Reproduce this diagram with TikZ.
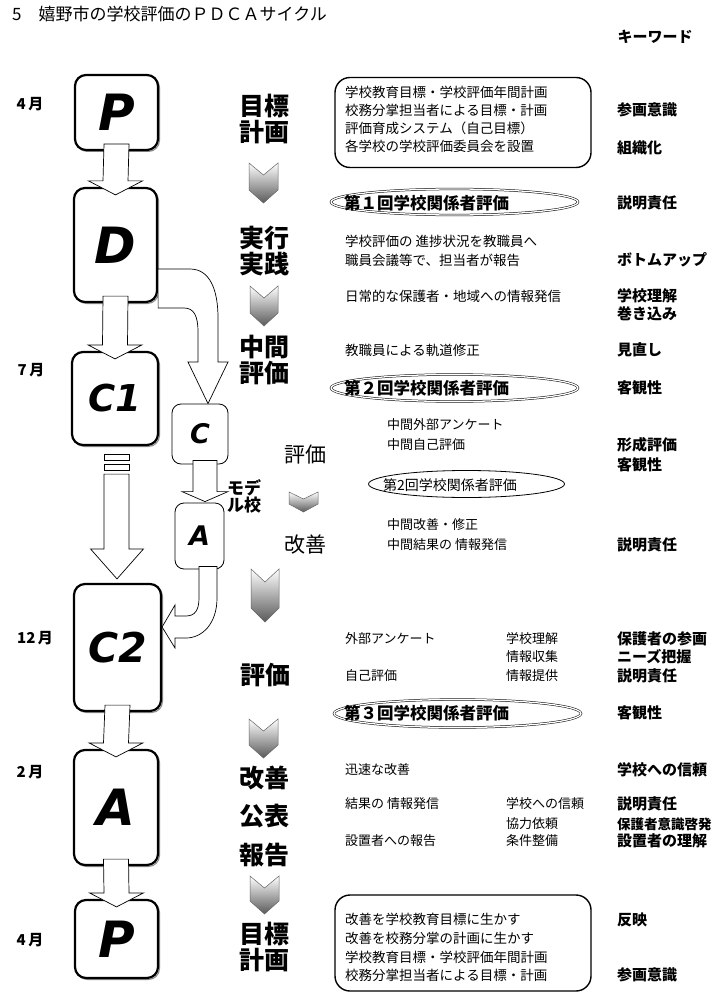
\documentclass[tikz,border=0pt]{standalone}
\usepackage{fontspec}
\setmainfont{Noto Sans CJK JP}
\newfontfamily\lat{DejaVu Sans}
\usetikzlibrary{shapes.geometric,calc,shadows}
\newcommand\mychev[5]{%
  \shadedraw[top color=white, bottom color=black!65, draw=black!60, line width=0.5pt]
  (#1,#3) -- ({(#1+#2)/2},{#3+#5}) -- (#2,#3) -- (#2,{#4-#5-1}) -- ({(#1+#2)/2},#4) -- (#1,{#4-#5-1}) -- cycle;}
\newcommand\blockdown[2]{%
  \draw[barrow] ($(#1.south)+(-12.5,-7)$) -- ($(#1.south)+(12.5,-7)$)
    -- ($(#2.north)+(12.5,-6)$) -- ($(#2.north)+(27,-6)$) -- ($(#2.north)+(0,8)$)
    -- ($(#2.north)+(-27,-6)$) -- ($(#2.north)+(-12.5,-6)$) -- cycle;}
\begin{document}
\begin{tikzpicture}[x=1pt,y=-1pt,
  bigbox/.style={draw, line width=2.2pt, rounded corners=11pt, fill=white, inner sep=0pt,
     copy shadow={shadow xshift=1.5pt, shadow yshift=-1.5pt, draw=black!45, line width=1pt, fill=white}},
  smallbox/.style={draw, line width=0.8pt, rounded corners=9pt, fill=white, inner sep=0pt},
  barrow/.style={draw, line width=0.7pt, fill=white, line join=miter},
  txt/.style={anchor=west, inner sep=0pt, font=\fontsize{13.5}{14}\selectfont},
  kw/.style={anchor=west, inner sep=0pt, font=\fontsize{15}{16}\selectfont\bfseries},
  stage/.style={align=center, inner sep=0pt, font=\fontsize{25}{26}\selectfont\bfseries},
  midstage/.style={inner sep=0pt, font=\fontsize{21}{22}\selectfont},
  month/.style={inner sep=0pt, font=\fontsize{15}{16}\selectfont\bfseries},
  dell/.style={draw, ellipse, line width=0.5pt, double, double distance=1.3pt, inner sep=0pt},
  sell/.style={draw, ellipse, line width=0.8pt, inner sep=0pt},
  ebold/.style={anchor=west, inner sep=0pt, font=\fontsize{16.5}{17}\selectfont\bfseries},
  tbox/.style={draw, line width=1.4pt, rounded corners=15pt, inner sep=0pt}
]
\fill[white] (0,0) rectangle (720,1000);
\useasboundingbox (0,0) rectangle (720,1000);

% title and heading
\node[anchor=west, inner sep=0pt, font=\fontsize{17}{18}\selectfont] (title) at (12,14) {5　嬉野市の学校評価のＰＤＣＡサイクル};
\node[inner sep=0pt, font=\fontsize{15}{16}\selectfont\bfseries] (kwhead) at (655,37) {キーワード};

% main boxes
\node[bigbox, minimum width=83pt, minimum height=75pt, font=\lat\bfseries\itshape\fontsize{50}{50}\selectfont] (P1) at (116.5,112.5) {P};
\node[bigbox, minimum width=83pt, minimum height=114pt, font=\lat\bfseries\itshape\fontsize{50}{50}\selectfont] (D) at (115.5,245) {D};
\node[bigbox, minimum width=86pt, minimum height=93pt, font=\lat\bfseries\itshape\fontsize{37}{37}\selectfont] (C1) at (115,398.5) {C1};
\node[bigbox, minimum width=87pt, minimum height=127pt, font=\lat\bfseries\itshape\fontsize{41}{41}\selectfont] (C2) at (117.5,647.5) {C2};
\node[bigbox, minimum width=84pt, minimum height=115pt, font=\lat\bfseries\itshape\fontsize{50}{50}\selectfont] (A) at (116,807.5) {A};
\node[bigbox, minimum width=83pt, minimum height=78pt, font=\lat\bfseries\itshape\fontsize{50}{50}\selectfont] (P2) at (116.5,939) {P};

% model school boxes
\node[smallbox, minimum width=56pt, minimum height=60pt, font=\lat\bfseries\itshape\fontsize{27}{27}\selectfont] (sc) at (200,434) {C};
\node[smallbox, minimum width=49pt, minimum height=66pt, font=\lat\bfseries\itshape\fontsize{27}{27}\selectfont] (sa) at (199.5,536) {A};

% month labels
\node[month] (m1) at (30,104) {4\,月};
\node[month] (m2) at (31,370) {7\,月};
\node[month] (m3) at (35,638) {12\,月};
\node[month] (m4) at (30,772) {2\,月};
\node[month] (m5) at (30,940) {4\,月};

% block arrows between main boxes
\blockdown{P1}{D}
\blockdown{D}{C1}
\blockdown{C2}{A}
\blockdown{A}{P2}
% C1 -> C2 with break marks
\draw[barrow] ($(C1.south)+(-11,8)$) rectangle ($(C1.south)+(14,14)$);
\draw[barrow] ($(C1.south)+(-11,18)$) rectangle ($(C1.south)+(14,24)$);
\draw[barrow] ($(C1.south)+(-11,28)$) -- ($(C1.south)+(14,28)$) -- ($(C2.north)+(11.5,-34)$)
  -- ($(C2.north)+(26,-34)$) -- ($(C2.north)+(-0.5,-4)$) -- ($(C2.north)+(-27,-34)$)
  -- ($(C2.north)+(-13.5,-34)$) -- cycle;

% curved arrow D -> c
\draw[barrow] (D.east |- 0,269) -- (190,269) .. controls (210,269) and (218,290) .. (218,318)
  -- (218,362) -- (228,362) -- (sc.north -| 208,0) -- (188,362) -- (198,362) -- (198,332)
  .. controls (198,316) and (194,308) .. (184,308) -- (D.east |- 0,308) -- cycle;
% c -> A
\draw[barrow] ($(sc.south)+(-7,-4)$) -- ($(sc.south)+(17,-4)$) -- ($(sa.north)+(17.5,-11)$)
  -- ($(sa.north)+(28.5,-11)$) -- ($(sa.north)+(5.5,-1)$) -- ($(sa.north)+(-17.5,-11)$)
  -- ($(sa.north)+(-6.5,-11)$) -- cycle;
% A -> C2 curved
\draw[barrow] ($(sa.south)+(-0.5,-3)$) -- ($(sa.south)+(17.5,-3)$) -- (217,598)
  .. controls (217,624) and (202,638) .. (186,638) -- (175,638) -- (175,648)
  -- (C2.east |- 0,627) -- (175,605) -- (175,616) -- (186,616)
  .. controls (195,616) and (199,610) .. (199,598) -- cycle;

\node[inner sep=0pt, align=left, font=\fontsize{17}{17}\selectfont\bfseries] (model) at (244,496) {モデ\\ル校};

% stage labels
\node[stage] (s1) at (264,119) {目標\\計画};
\node[stage] (s2) at (264,251) {実行\\実践};
\node[stage] (s3) at (264,360) {中間\\評価};
\node[midstage] (s4) at (305,455) {評価};
\node[midstage] (s5) at (305,545) {改善};
\node[stage] (s6) at (265,675) {評価};
\node[stage] (s7) at (264,778) {改善};
\node[stage] (s8) at (264,816) {公表};
\node[stage] (s9) at (264,855) {報告};
\node[stage] (s10) at (264,947) {目標\\計画};

% chevrons
\mychev{249}{278}{163}{203}{12}
\mychev{250}{278}{286}{326}{12}
\mychev{289}{318}{492}{512}{7}
\mychev{251}{279}{569}{622}{13}
\mychev{249}{278}{719}{758}{12}
\mychev{250}{279}{876}{914}{12}

% top text box
\node[tbox, minimum width=256pt, minimum height=90pt] (box1) at (463,122.5) {};
\node[txt] (t1) at (345,92) {学校教育目標・学校評価年間計画};
\node[txt] (t2) at (345,110) {校務分掌担当者による目標・計画};
\node[txt] (t3) at (345,128) {評価育成システム（自己目標）};
\node[txt] (t4) at (345,146) {各学校の学校評価委員会を設置};
\node[kw] (k1) at (617,110) {参画意識};
\node[kw] (k2) at (617,148) {組織化};

% first stakeholder evaluation
\node[dell, minimum width=247pt, minimum height=26pt] (e1) at (454.5,202) {};
\node[ebold] (e1t) at (344,203) {第１回学校関係者評価};
\node[kw] (k3) at (617,203) {説明責任};

\node[txt] (t5) at (345,241) {学校評価の 進捗状況を教職員へ};
\node[txt] (t6) at (345,260) {職員会議等で、担当者が報告};
\node[kw] (k4) at (617,260) {ボトムアップ};
\node[txt] (t7) at (345,296) {日常的な保護者・地域への情報発信};
\node[kw] (k5) at (617,296) {学校理解};
\node[kw] (k6) at (617,314) {巻き込み};
\node[txt] (t8) at (345,350) {教職員による軌道修正};
\node[kw] (k7) at (617,350) {見直し};

\node[dell, minimum width=247pt, minimum height=27pt] (e2) at (454.5,388) {};
\node[ebold] (e2t) at (344,388) {第２回学校関係者評価};
\node[kw] (k8) at (617,388) {客観性};

\node[txt, font=\fontsize{13}{14}\selectfont] (t9) at (387,425) {中間外部アンケート};
\node[txt, font=\fontsize{13}{14}\selectfont] (t10) at (387,445) {中間自己評価};
\node[kw] (k9) at (617,445) {形成評価};
\node[kw] (k10) at (617,465) {客観性};
\node[sell, minimum width=196pt, minimum height=27pt] (e3) at (466.5,484) {};
\node[txt, font=\fontsize{14}{15}\selectfont] (e3t) at (383,485) {第2回学校関係者評価};
\node[txt, font=\fontsize{13}{14}\selectfont] (t11) at (387,525) {中間改善・修正};
\node[txt, font=\fontsize{13}{14}\selectfont] (t12) at (387,545) {中間結果の 情報発信};
\node[kw] (k11) at (617,545) {説明責任};

% C2 section
\node[txt, font=\fontsize{13}{14}\selectfont] (t13) at (345,639) {外部アンケート};
\node[txt, font=\fontsize{13}{14}\selectfont] (t14) at (506,639) {学校理解};
\node[kw] (k12) at (617,639) {保護者の参画};
\node[txt, font=\fontsize{13}{14}\selectfont] (t15) at (506,657) {情報収集};
\node[kw] (k13) at (617,657) {ニーズ把握};
\node[txt, font=\fontsize{13}{14}\selectfont] (t16) at (345,676) {自己評価};
\node[txt, font=\fontsize{13}{14}\selectfont] (t17) at (506,676) {情報提供};
\node[kw] (k14) at (617,676) {説明責任};

\node[dell, minimum width=247pt, minimum height=28pt] (e4) at (457.5,713.5) {};
\node[ebold] (e4t) at (344,713) {第３回学校関係者評価};
\node[kw] (k15) at (617,713) {客観性};

% A section
\node[txt, font=\fontsize{13}{14}\selectfont] (t18) at (345,770) {迅速な改善};
\node[kw] (k16) at (617,770) {学校への信頼};
\node[txt, font=\fontsize{13}{14}\selectfont] (t19) at (345,804) {結果の 情報発信};
\node[txt, font=\fontsize{13}{14}\selectfont] (t20) at (506,804) {学校への信頼};
\node[kw] (k17) at (617,804) {説明責任};
\node[txt, font=\fontsize{13}{14}\selectfont] (t21) at (506,824) {協力依頼};
\node[kw, font=\fontsize{13.5}{14}\selectfont\bfseries] (k18) at (617,824) {保護者意識啓発};
\node[txt, font=\fontsize{13}{14}\selectfont] (t22) at (345,841) {設置者への報告};
\node[txt, font=\fontsize{13}{14}\selectfont] (t23) at (506,841) {条件整備};
\node[kw] (k19) at (617,841) {設置者の理解};

% bottom text box
\node[tbox, minimum width=256pt, minimum height=96pt] (box2) at (463,943) {};
\node[txt] (b1) at (345,919) {改善を学校教育目標に生かす};
\node[txt] (b2) at (345,938) {改善を校務分掌の計画に生かす};
\node[txt] (b3) at (345,957) {学校教育目標・学校評価年間計画};
\node[txt] (b4) at (345,975) {校務分掌担当者による目標・計画};
\node[kw] (k20) at (617,920) {反映};
\node[kw] (k21) at (617,975) {参画意識};
\end{tikzpicture}
\end{document}
